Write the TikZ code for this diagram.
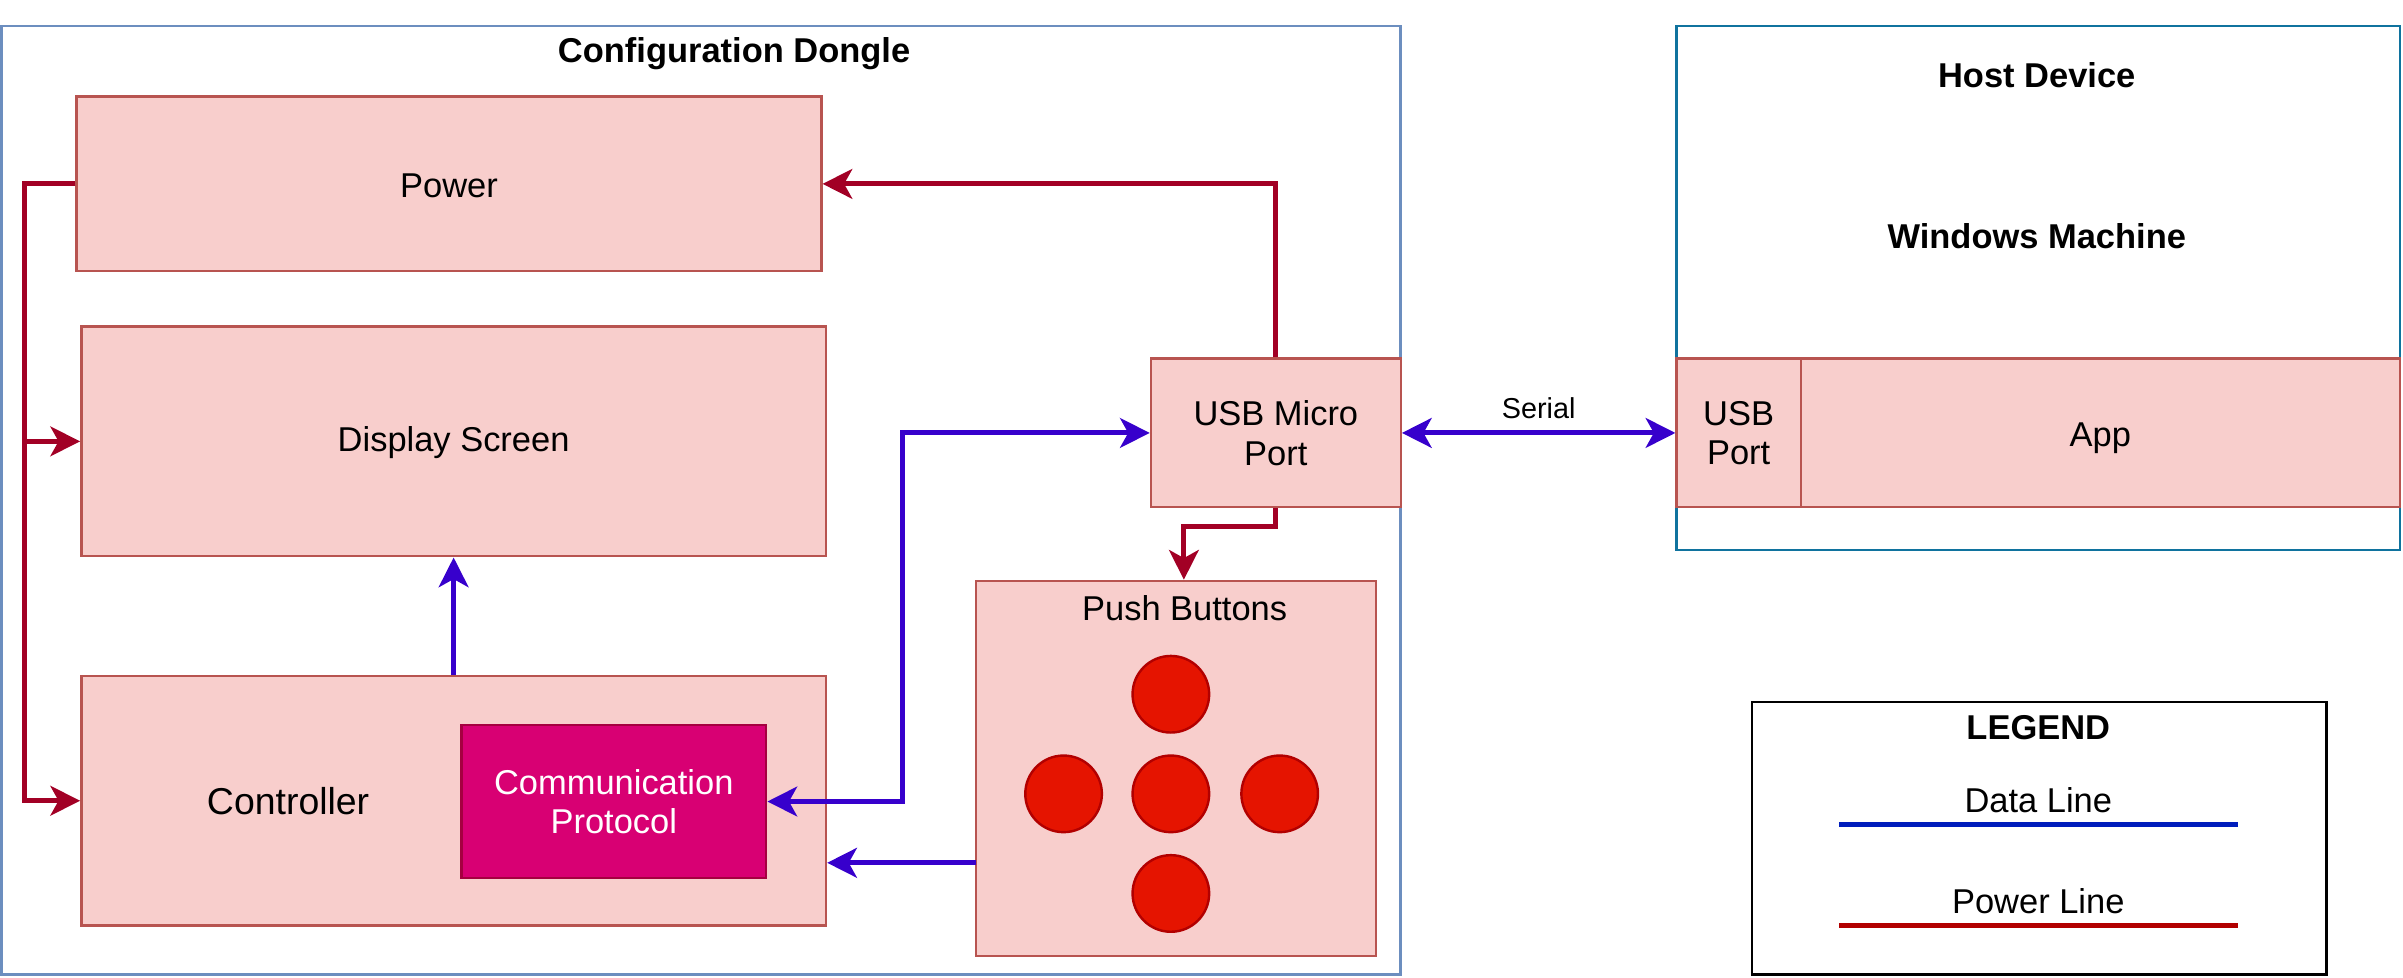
\documentclass[tikz,border=0pt]{standalone}
\usepackage{fontspec}
\setmainfont{Liberation Sans}
\usetikzlibrary{arrows.meta}

\definecolor{boxfill}{HTML}{F8CECC}
\definecolor{boxline}{HTML}{B85450}
\definecolor{commfill}{HTML}{D80073}
\definecolor{commline}{HTML}{A50040}
\definecolor{btnfill}{HTML}{E51400}
\definecolor{btnline}{HTML}{B20000}
\definecolor{pwrcol}{HTML}{A20025}
\definecolor{datcol}{HTML}{3700CC}
\definecolor{dongcol}{HTML}{6C8EBF}
\definecolor{hostcol}{HTML}{10739E}
\definecolor{legblue}{HTML}{001DBC}

\tikzset{
  blk/.style 2 args={draw=boxline,fill=boxfill,line width=0.9pt,minimum width=#1,
    minimum height=#2,inner sep=0,align=center},
  oneline/.style={text height=1em},
  cont/.style n args={3}{draw=#1,line width=0.9pt,minimum width=#2,minimum height=#3,inner sep=0},
  btn/.style={circle,draw=btnline,fill=btnfill,line width=0.9pt,minimum size=1cm,inner sep=0},
  pwr/.style={draw=pwrcol,line width=1.9pt,->},
  dat/.style={draw=datcol,line width=1.9pt,->},
}

\begin{document}
\begin{tikzpicture}[x=0.02cm,y=-0.02cm,font=\fontsize{12.8}{14.7}\selectfont,
    >={Stealth[length=11pt,width=11pt,inset=3pt]}]
    \useasboundingbox (0,0) rectangle (1568,638);
    % dongle side
    \node[cont={dongcol}{18.26cm}{12.38cm}] (dongle) at (457.5,326.5) {};
    \node[font=\fontsize{12.8}{14.7}\selectfont\bfseries] (dongtxt) at (479,35) {Configuration Dongle};
    \node[blk={9.72cm}{2.28cm},oneline] (power) at (293,120) {Power};
    \node[blk={9.72cm}{3cm},oneline] (disp) at (296,288) {Display Screen};
    \node[blk={9.72cm}{3.26cm}] (ctrl) at (296,522.5) {};
    \node[font=\fontsize{13.9}{16}\selectfont] (ctrltxt) at (188,523) {Controller};
    \node[blk={3.98cm}{2cm},draw=commline,fill=commfill,text=white] (comm) at (400.5,523)
         {Communication\\Protocol};
    \node[blk={3.26cm}{1.94cm}] (usbm) at (832.5,282.5) {USB Micro\\Port};
    \node[blk={5.22cm}{4.9cm}] (pb) at (767.5,501.5) {};
    \node (pbtxt) at (773,397) {Push Buttons};
    \foreach \n/\x/\y in {b1/764/453,b2/694/518,b3/764/518,b4/835/518,b5/764/583}
      \node[btn] (\n) at (\x,\y) {};
    % host side
    \node[cont={hostcol}{9.44cm}{6.84cm}] (host) at (1330,188) {};
    \node[font=\fontsize{12.8}{14.7}\selectfont\bfseries] (hosttxt) at (1329,49) {Host Device};
    \node[font=\fontsize{12.8}{14.7}\selectfont\bfseries] (wintxt) at (1329,154) {Windows Machine};
    \node[blk={1.62cm}{1.94cm}] (usbp) at (1134.5,282.5) {USB\\Port};
    \node[blk={7.82cm}{1.94cm},oneline,text depth=0pt] (app) at (1370.5,282.5) {App};
    % power lines
    \draw[pwr] (usbm.north) |- (power.east);
    \draw[pwr] (usbm.south) -- ++(0,12) -| ([xshift=0.1cm]pb.north);
    \draw[pwr] (power.west) -- ++(-33,0) |- (disp.west);
    \draw[pwr] (power.west) -- ++(-33,0) |- (ctrl.west);
    % data lines
    \draw[dat] (ctrl.north) -- (disp.south);
    \draw[dat,<->] (comm.east |- ctrltxt) -- ++(88,0) |- (usbm.west);
    \coordinate (pbout) at (637,563);
    \draw[dat] (pbout) -- (pbout -| ctrl.east);
    \draw[dat,<->] (usbm.east) -- node[above=1pt,font=\fontsize{10.7}{12}\selectfont] (sertxt) {Serial} (usbp.west);
    % legend
    \node[cont={black}{7.5cm}{3.56cm}] (legend) at (1330.5,547) {};
    \node[font=\fontsize{12.8}{14.7}\selectfont\bfseries] (legtxt) at (1330,475) {LEGEND};
    \node (datatxt) at (1330,522) {Data Line};
    \node (pwrtxt) at (1330,588) {Power Line};
    \coordinate (d1) at (1200,538); \coordinate (d2) at (1460,538);
    \coordinate (p1) at (1200,604); \coordinate (p2) at (1460,604);
    \draw[legblue,line width=1.9pt] (d1) -- (d2);
    \draw[btnline,line width=1.9pt] (p1) -- (p2);
\end{tikzpicture}
\end{document}
